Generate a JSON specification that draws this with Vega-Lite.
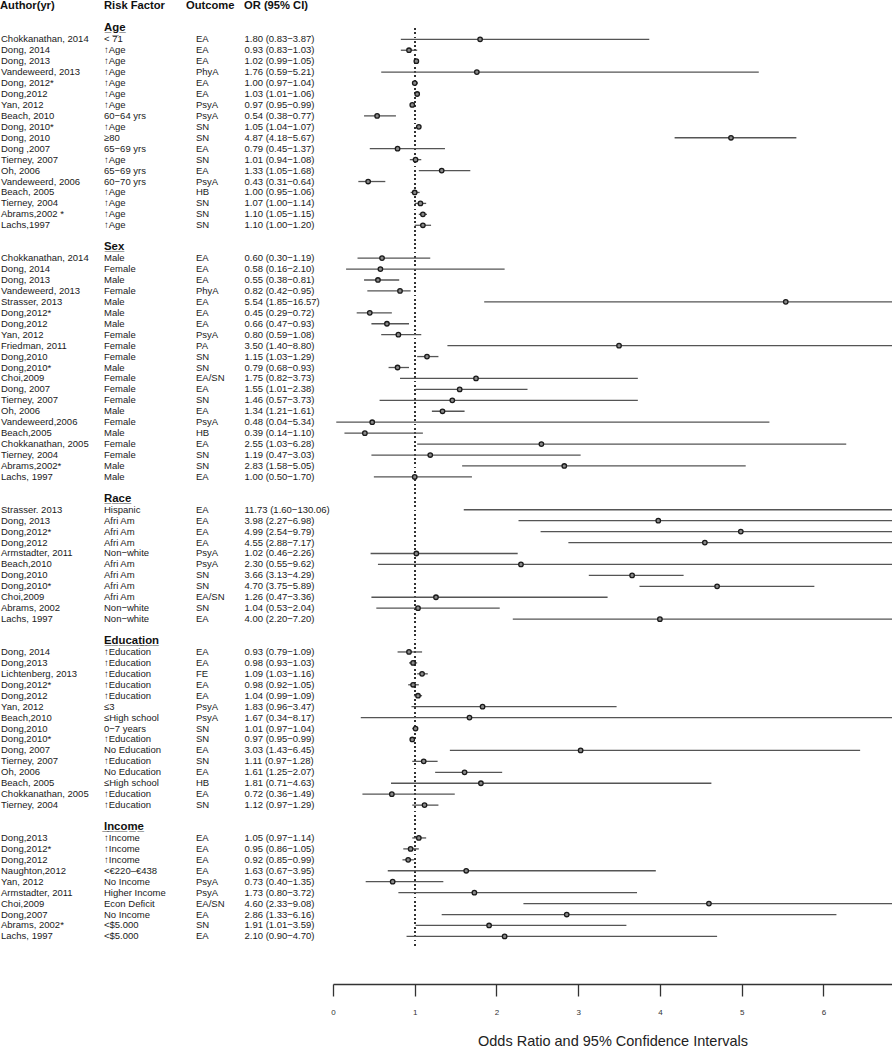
{
  "$schema": "https://vega.github.io/schema/vega-lite/v6.json",
  "padding": 0,
  "spacing": 0,
  "bounds": "flush",
  "background": "white",
  "config": {
    "view": {"stroke": null},
    "text": {"font": "Liberation Sans"},
    "axis": {"labelFont": "Liberation Sans", "titleFont": "Liberation Sans"}
  },
  "datasets": {
    "rows": [
      {"kind": "col", "r": -3, "a": "Author(yr)", "f": "Risk Factor", "o": "Outcome", "t": "OR (95% CI)"},
      {"kind": "sec", "r": -1, "f": "A\u0332g\u0332e\u0332"},
      {"kind": "d", "r": 0, "a": "Chokkanathan, 2014", "f": "< 71", "o": "EA", "t": "1.80 (0.83−3.87)", "or": 1.80, "lo": 0.83, "hi": 3.87},
      {"kind": "d", "r": 1, "a": "Dong, 2014", "f": "↑Age", "o": "EA", "t": "0.93 (0.83−1.03)", "or": 0.93, "lo": 0.83, "hi": 1.03},
      {"kind": "d", "r": 2, "a": "Dong, 2013", "f": "↑Age", "o": "EA", "t": "1.02 (0.99−1.05)", "or": 1.02, "lo": 0.99, "hi": 1.05},
      {"kind": "d", "r": 3, "a": "Vandeweerd, 2013", "f": "↑Age", "o": "PhyA", "t": "1.76 (0.59−5.21)", "or": 1.76, "lo": 0.59, "hi": 5.21},
      {"kind": "d", "r": 4, "a": "Dong, 2012*", "f": "↑Age", "o": "EA", "t": "1.00 (0.97−1.04)", "or": 1.00, "lo": 0.97, "hi": 1.04},
      {"kind": "d", "r": 5, "a": "Dong,2012", "f": "↑Age", "o": "EA", "t": "1.03 (1.01−1.06)", "or": 1.03, "lo": 1.01, "hi": 1.06},
      {"kind": "d", "r": 6, "a": "Yan, 2012", "f": "↑Age", "o": "PsyA", "t": "0.97 (0.95−0.99)", "or": 0.97, "lo": 0.95, "hi": 0.99},
      {"kind": "d", "r": 7, "a": "Beach, 2010", "f": "60−64 yrs", "o": "PsyA", "t": "0.54 (0.38−0.77)", "or": 0.54, "lo": 0.38, "hi": 0.77},
      {"kind": "d", "r": 8, "a": "Dong, 2010*", "f": "↑Age", "o": "SN", "t": "1.05 (1.04−1.07)", "or": 1.05, "lo": 1.04, "hi": 1.07},
      {"kind": "d", "r": 9, "a": "Dong, 2010", "f": "≥80", "o": "SN", "t": "4.87 (4.18−5.67)", "or": 4.87, "lo": 4.18, "hi": 5.67},
      {"kind": "d", "r": 10, "a": "Dong ,2007", "f": "65−69 yrs", "o": "EA", "t": "0.79 (0.45−1.37)", "or": 0.79, "lo": 0.45, "hi": 1.37},
      {"kind": "d", "r": 11, "a": "Tierney, 2007", "f": "↑Age", "o": "SN", "t": "1.01 (0.94−1.08)", "or": 1.01, "lo": 0.94, "hi": 1.08},
      {"kind": "d", "r": 12, "a": "Oh, 2006", "f": "65−69 yrs", "o": "EA", "t": "1.33 (1.05−1.68)", "or": 1.33, "lo": 1.05, "hi": 1.68},
      {"kind": "d", "r": 13, "a": "Vandeweerd, 2006", "f": "60−70 yrs", "o": "PsyA", "t": "0.43 (0.31−0.64)", "or": 0.43, "lo": 0.31, "hi": 0.64},
      {"kind": "d", "r": 14, "a": "Beach, 2005", "f": "↑Age", "o": "HB", "t": "1.00 (0.95−1.06)", "or": 1.00, "lo": 0.95, "hi": 1.06},
      {"kind": "d", "r": 15, "a": "Tierney, 2004", "f": "↑Age", "o": "SN", "t": "1.07 (1.00−1.14)", "or": 1.07, "lo": 1.00, "hi": 1.14},
      {"kind": "d", "r": 16, "a": "Abrams,2002 *", "f": "↑Age", "o": "SN", "t": "1.10 (1.05−1.15)", "or": 1.10, "lo": 1.05, "hi": 1.15},
      {"kind": "d", "r": 17, "a": "Lachs,1997", "f": "↑Age", "o": "SN", "t": "1.10 (1.00−1.20)", "or": 1.10, "lo": 1.00, "hi": 1.20},
      {"kind": "sec", "r": 19, "f": "S\u0332e\u0332x\u0332"},
      {"kind": "d", "r": 20, "a": "Chokkanathan, 2014", "f": "Male", "o": "EA", "t": "0.60 (0.30−1.19)", "or": 0.60, "lo": 0.30, "hi": 1.19},
      {"kind": "d", "r": 21, "a": "Dong, 2014", "f": "Female", "o": "EA", "t": "0.58 (0.16−2.10)", "or": 0.58, "lo": 0.16, "hi": 2.10},
      {"kind": "d", "r": 22, "a": "Dong, 2013", "f": "Male", "o": "EA", "t": "0.55 (0.38−0.81)", "or": 0.55, "lo": 0.38, "hi": 0.81},
      {"kind": "d", "r": 23, "a": "Vandeweerd, 2013", "f": "Female", "o": "PhyA", "t": "0.82 (0.42−0.95)", "or": 0.82, "lo": 0.42, "hi": 0.95},
      {"kind": "d", "r": 24, "a": "Strasser, 2013", "f": "Male", "o": "EA", "t": "5.54 (1.85−16.57)", "or": 5.54, "lo": 1.85, "hi": 16.57},
      {"kind": "d", "r": 25, "a": "Dong,2012*", "f": "Male", "o": "EA", "t": "0.45 (0.29−0.72)", "or": 0.45, "lo": 0.29, "hi": 0.72},
      {"kind": "d", "r": 26, "a": "Dong,2012", "f": "Male", "o": "EA", "t": "0.66 (0.47−0.93)", "or": 0.66, "lo": 0.47, "hi": 0.93},
      {"kind": "d", "r": 27, "a": "Yan, 2012", "f": "Female", "o": "PsyA", "t": "0.80 (0.59−1.08)", "or": 0.80, "lo": 0.59, "hi": 1.08},
      {"kind": "d", "r": 28, "a": "Friedman, 2011", "f": "Female", "o": "PA", "t": "3.50 (1.40−8.80)", "or": 3.50, "lo": 1.40, "hi": 8.80},
      {"kind": "d", "r": 29, "a": "Dong,2010", "f": "Female", "o": "SN", "t": "1.15 (1.03−1.29)", "or": 1.15, "lo": 1.03, "hi": 1.29},
      {"kind": "d", "r": 30, "a": "Dong,2010*", "f": "Male", "o": "SN", "t": "0.79 (0.68−0.93)", "or": 0.79, "lo": 0.68, "hi": 0.93},
      {"kind": "d", "r": 31, "a": "Choi,2009", "f": "Female", "o": "EA/SN", "t": "1.75 (0.82−3.73)", "or": 1.75, "lo": 0.82, "hi": 3.73},
      {"kind": "d", "r": 32, "a": "Dong, 2007", "f": "Female", "o": "EA", "t": "1.55 (1.01−2.38)", "or": 1.55, "lo": 1.01, "hi": 2.38},
      {"kind": "d", "r": 33, "a": "Tierney, 2007", "f": "Female", "o": "SN", "t": "1.46 (0.57−3.73)", "or": 1.46, "lo": 0.57, "hi": 3.73},
      {"kind": "d", "r": 34, "a": "Oh, 2006", "f": "Male", "o": "EA", "t": "1.34 (1.21−1.61)", "or": 1.34, "lo": 1.21, "hi": 1.61},
      {"kind": "d", "r": 35, "a": "Vandeweerd,2006", "f": "Female", "o": "PsyA", "t": "0.48 (0.04−5.34)", "or": 0.48, "lo": 0.04, "hi": 5.34},
      {"kind": "d", "r": 36, "a": "Beach,2005", "f": "Male", "o": "HB", "t": "0.39 (0.14−1.10)", "or": 0.39, "lo": 0.14, "hi": 1.10},
      {"kind": "d", "r": 37, "a": "Chokkanathan, 2005", "f": "Female", "o": "EA", "t": "2.55 (1.03−6.28)", "or": 2.55, "lo": 1.03, "hi": 6.28},
      {"kind": "d", "r": 38, "a": "Tierney, 2004", "f": "Female", "o": "SN", "t": "1.19 (0.47−3.03)", "or": 1.19, "lo": 0.47, "hi": 3.03},
      {"kind": "d", "r": 39, "a": "Abrams,2002*", "f": "Male", "o": "SN", "t": "2.83 (1.58−5.05)", "or": 2.83, "lo": 1.58, "hi": 5.05},
      {"kind": "d", "r": 40, "a": "Lachs, 1997", "f": "Male", "o": "EA", "t": "1.00 (0.50−1.70)", "or": 1.00, "lo": 0.50, "hi": 1.70},
      {"kind": "sec", "r": 42, "f": "R\u0332a\u0332c\u0332e\u0332"},
      {"kind": "d", "r": 43, "a": "Strasser. 2013", "f": "Hispanic", "o": "EA", "t": "11.73 (1.60−130.06)", "or": 11.73, "lo": 1.60, "hi": 130.06},
      {"kind": "d", "r": 44, "a": "Dong, 2013", "f": "Afri Am", "o": "EA", "t": "3.98 (2.27−6.98)", "or": 3.98, "lo": 2.27, "hi": 6.98},
      {"kind": "d", "r": 45, "a": "Dong,2012*", "f": "Afri Am", "o": "EA", "t": "4.99 (2.54−9.79)", "or": 4.99, "lo": 2.54, "hi": 9.79},
      {"kind": "d", "r": 46, "a": "Dong,2012", "f": "Afri Am", "o": "EA", "t": "4.55 (2.88−7.17)", "or": 4.55, "lo": 2.88, "hi": 7.17},
      {"kind": "d", "r": 47, "a": "Armstadter, 2011", "f": "Non−white", "o": "PsyA", "t": "1.02 (0.46−2.26)", "or": 1.02, "lo": 0.46, "hi": 2.26},
      {"kind": "d", "r": 48, "a": "Beach,2010", "f": "Afri Am", "o": "PsyA", "t": "2.30 (0.55−9.62)", "or": 2.30, "lo": 0.55, "hi": 9.62},
      {"kind": "d", "r": 49, "a": "Dong,2010", "f": "Afri Am", "o": "SN", "t": "3.66 (3.13−4.29)", "or": 3.66, "lo": 3.13, "hi": 4.29},
      {"kind": "d", "r": 50, "a": "Dong,2010*", "f": "Afri Am", "o": "SN", "t": "4.70 (3.75−5.89)", "or": 4.70, "lo": 3.75, "hi": 5.89},
      {"kind": "d", "r": 51, "a": "Choi,2009", "f": "Afri Am", "o": "EA/SN", "t": "1.26 (0.47−3.36)", "or": 1.26, "lo": 0.47, "hi": 3.36},
      {"kind": "d", "r": 52, "a": "Abrams, 2002", "f": "Non−white", "o": "SN", "t": "1.04 (0.53−2.04)", "or": 1.04, "lo": 0.53, "hi": 2.04},
      {"kind": "d", "r": 53, "a": "Lachs, 1997", "f": "Non−white", "o": "EA", "t": "4.00 (2.20−7.20)", "or": 4.00, "lo": 2.20, "hi": 7.20},
      {"kind": "sec", "r": 55, "f": "E\u0332d\u0332u\u0332c\u0332a\u0332t\u0332i\u0332o\u0332n\u0332"},
      {"kind": "d", "r": 56, "a": "Dong, 2014", "f": "↑Education", "o": "EA", "t": "0.93 (0.79−1.09)", "or": 0.93, "lo": 0.79, "hi": 1.09},
      {"kind": "d", "r": 57, "a": "Dong,2013", "f": "↑Education", "o": "EA", "t": "0.98 (0.93−1.03)", "or": 0.98, "lo": 0.93, "hi": 1.03},
      {"kind": "d", "r": 58, "a": "Lichtenberg, 2013", "f": "↑Education", "o": "FE", "t": "1.09 (1.03−1.16)", "or": 1.09, "lo": 1.03, "hi": 1.16},
      {"kind": "d", "r": 59, "a": "Dong,2012*", "f": "↑Education", "o": "EA", "t": "0.98 (0.92−1.05)", "or": 0.98, "lo": 0.92, "hi": 1.05},
      {"kind": "d", "r": 60, "a": "Dong,2012", "f": "↑Education", "o": "EA", "t": "1.04 (0.99−1.09)", "or": 1.04, "lo": 0.99, "hi": 1.09},
      {"kind": "d", "r": 61, "a": "Yan, 2012", "f": "≤3", "o": "PsyA", "t": "1.83 (0.96−3.47)", "or": 1.83, "lo": 0.96, "hi": 3.47},
      {"kind": "d", "r": 62, "a": "Beach,2010", "f": "≤High school", "o": "PsyA", "t": "1.67 (0.34−8.17)", "or": 1.67, "lo": 0.34, "hi": 8.17},
      {"kind": "d", "r": 63, "a": "Dong,2010", "f": "0−7 years", "o": "SN", "t": "1.01 (0.97−1.04)", "or": 1.01, "lo": 0.97, "hi": 1.04},
      {"kind": "d", "r": 64, "a": "Dong,2010*", "f": "↑Education", "o": "SN", "t": "0.97 (0.95−0.99)", "or": 0.97, "lo": 0.95, "hi": 0.99},
      {"kind": "d", "r": 65, "a": "Dong, 2007", "f": "No Education", "o": "EA", "t": "3.03 (1.43−6.45)", "or": 3.03, "lo": 1.43, "hi": 6.45},
      {"kind": "d", "r": 66, "a": "Tierney, 2007", "f": "↑Education", "o": "SN", "t": "1.11 (0.97−1.28)", "or": 1.11, "lo": 0.97, "hi": 1.28},
      {"kind": "d", "r": 67, "a": "Oh, 2006", "f": "No Education", "o": "EA", "t": "1.61 (1.25−2.07)", "or": 1.61, "lo": 1.25, "hi": 2.07},
      {"kind": "d", "r": 68, "a": "Beach, 2005", "f": "≤High school", "o": "HB", "t": "1.81 (0.71−4.63)", "or": 1.81, "lo": 0.71, "hi": 4.63},
      {"kind": "d", "r": 69, "a": "Chokkanathan, 2005", "f": "↑Education", "o": "EA", "t": "0.72 (0.36−1.49)", "or": 0.72, "lo": 0.36, "hi": 1.49},
      {"kind": "d", "r": 70, "a": "Tierney, 2004", "f": "↑Education", "o": "SN", "t": "1.12 (0.97−1.29)", "or": 1.12, "lo": 0.97, "hi": 1.29},
      {"kind": "sec", "r": 72, "f": "I\u0332n\u0332c\u0332o\u0332m\u0332e\u0332"},
      {"kind": "d", "r": 73, "a": "Dong,2013", "f": "↑Income", "o": "EA", "t": "1.05 (0.97−1.14)", "or": 1.05, "lo": 0.97, "hi": 1.14},
      {"kind": "d", "r": 74, "a": "Dong,2012*", "f": "↑Income", "o": "EA", "t": "0.95 (0.86−1.05)", "or": 0.95, "lo": 0.86, "hi": 1.05},
      {"kind": "d", "r": 75, "a": "Dong,2012", "f": "↑Income", "o": "EA", "t": "0.92 (0.85−0.99)", "or": 0.92, "lo": 0.85, "hi": 0.99},
      {"kind": "d", "r": 76, "a": "Naughton,2012", "f": "<€220–€438", "o": "EA", "t": "1.63 (0.67−3.95)", "or": 1.63, "lo": 0.67, "hi": 3.95},
      {"kind": "d", "r": 77, "a": "Yan, 2012", "f": "No Income", "o": "PsyA", "t": "0.73 (0.40−1.35)", "or": 0.73, "lo": 0.40, "hi": 1.35},
      {"kind": "d", "r": 78, "a": "Armstadter, 2011", "f": "Higher Income", "o": "PsyA", "t": "1.73 (0.80−3.72)", "or": 1.73, "lo": 0.80, "hi": 3.72},
      {"kind": "d", "r": 79, "a": "Choi,2009", "f": "Econ Deficit", "o": "EA/SN", "t": "4.60 (2.33−9.08)", "or": 4.60, "lo": 2.33, "hi": 9.08},
      {"kind": "d", "r": 80, "a": "Dong,2007", "f": "No Income", "o": "EA", "t": "2.86 (1.33−6.16)", "or": 2.86, "lo": 1.33, "hi": 6.16},
      {"kind": "d", "r": 81, "a": "Abrams, 2002*", "f": "<$5.000", "o": "SN", "t": "1.91 (1.01−3.59)", "or": 1.91, "lo": 1.01, "hi": 3.59},
      {"kind": "d", "r": 82, "a": "Lachs, 1997", "f": "<$5.000", "o": "EA", "t": "2.10 (0.90−4.70)", "or": 2.10, "lo": 0.90, "hi": 4.70}
    ]
  },
  "hconcat": [
    {
      "width": 333,
      "height": 984,
      "data": {"name": "rows"},
      "layer": [
        {
          "transform": [{"filter": "datum.kind == 'col'"}],
          "mark": {"type": "text", "align": "left", "baseline": "middle", "fontSize": 11.2, "fontWeight": "bold", "color": "#111"},
          "encoding": {
            "x": {"datum": 0, "type": "quantitative", "scale": {"domain": [0, 333], "nice": false, "zero": false}, "axis": null},
            "y": {"field": "r", "type": "quantitative", "scale": {"domain": [-3.592, 86.35], "reverse": true, "nice": false, "zero": false}, "axis": null},
            "text": {"field": "a"}
          }
        },
        {
          "transform": [{"filter": "datum.kind == 'col'"}],
          "mark": {"type": "text", "align": "left", "baseline": "middle", "fontSize": 11.2, "fontWeight": "bold", "color": "#111"},
          "encoding": {
            "x": {"datum": 104, "type": "quantitative"},
            "y": {"field": "r", "type": "quantitative"},
            "text": {"field": "f"}
          }
        },
        {
          "transform": [{"filter": "datum.kind == 'col'"}],
          "mark": {"type": "text", "align": "left", "baseline": "middle", "fontSize": 11.2, "fontWeight": "bold", "color": "#111"},
          "encoding": {
            "x": {"datum": 186, "type": "quantitative"},
            "y": {"field": "r", "type": "quantitative"},
            "text": {"field": "o"}
          }
        },
        {
          "transform": [{"filter": "datum.kind == 'col'"}],
          "mark": {"type": "text", "align": "left", "baseline": "middle", "fontSize": 11.2, "fontWeight": "bold", "color": "#111"},
          "encoding": {
            "x": {"datum": 244, "type": "quantitative"},
            "y": {"field": "r", "type": "quantitative"},
            "text": {"field": "t"}
          }
        },
        {
          "transform": [{"filter": "datum.kind == 'sec'"}],
          "mark": {"type": "text", "align": "left", "baseline": "middle", "fontSize": 11.4, "fontWeight": "bold", "color": "#111"},
          "encoding": {
            "x": {"datum": 104, "type": "quantitative"},
            "y": {"field": "r", "type": "quantitative"},
            "text": {"field": "f"}
          }
        },
        {
          "transform": [{"filter": "datum.kind == 'd'"}],
          "mark": {"type": "text", "align": "left", "baseline": "middle", "fontSize": 9.5, "color": "#1a1a1a"},
          "encoding": {
            "x": {"datum": 1, "type": "quantitative"},
            "y": {"field": "r", "type": "quantitative"},
            "text": {"field": "a"}
          }
        },
        {
          "transform": [{"filter": "datum.kind == 'd'"}],
          "mark": {"type": "text", "align": "left", "baseline": "middle", "fontSize": 9.5, "color": "#1a1a1a"},
          "encoding": {
            "x": {"datum": 104, "type": "quantitative"},
            "y": {"field": "r", "type": "quantitative"},
            "text": {"field": "f"}
          }
        },
        {
          "transform": [{"filter": "datum.kind == 'd'"}],
          "mark": {"type": "text", "align": "left", "baseline": "middle", "fontSize": 9.5, "color": "#1a1a1a"},
          "encoding": {
            "x": {"datum": 196, "type": "quantitative"},
            "y": {"field": "r", "type": "quantitative"},
            "text": {"field": "o"}
          }
        },
        {
          "transform": [{"filter": "datum.kind == 'd'"}],
          "mark": {"type": "text", "align": "left", "baseline": "middle", "fontSize": 9.5, "color": "#1a1a1a"},
          "encoding": {
            "x": {"datum": 244.5, "type": "quantitative"},
            "y": {"field": "r", "type": "quantitative"},
            "text": {"field": "t"}
          }
        }
      ]
    },
    {
      "width": 559,
      "height": 984,
      "data": {"name": "rows"},
      "transform": [{"filter": "datum.kind == 'd'"}],
      "layer": [
        {
          "mark": {"type": "rule", "color": "#333", "strokeWidth": 1.1, "strokeDash": [1.1, 3.2]},
          "encoding": {
            "x": {"datum": 1, "type": "quantitative",
              "scale": {"domain": [0, 6.84], "nice": false, "zero": false},
              "axis": {
                "values": [0, 1, 2, 3, 4, 5, 6],
                "format": "d",
                "title": "Odds Ratio and 95% Confidence Intervals",
                "grid": false,
                "domainColor": "#333", "domainWidth": 1.3,
                "tickColor": "#333", "tickWidth": 1.3, "tickSize": 12,
                "labelFontSize": 8, "labelColor": "#333", "labelPadding": 12,
                "labelFlush": false,
                "titleFontSize": 14.5, "titleFontWeight": "normal", "titleColor": "#222", "titlePadding": 18
              }
            },
            "y": {"datum": -1, "type": "quantitative", "scale": {"domain": [-3.592, 86.35], "reverse": true, "nice": false, "zero": false}, "axis": null},
            "y2": {"datum": 83}
          }
        },
        {
          "mark": {"type": "rule", "color": "#555", "strokeWidth": 1.3, "clip": true},
          "encoding": {
            "x": {"field": "lo", "type": "quantitative"},
            "x2": {"field": "hi"},
            "y": {"field": "r", "type": "quantitative"}
          }
        },
        {
          "mark": {"type": "point", "shape": "circle", "filled": true, "fill": "#8a8a8a", "stroke": "#1a1a1a", "strokeWidth": 1.3, "size": 20, "opacity": 1, "clip": true},
          "encoding": {
            "x": {"field": "or", "type": "quantitative"},
            "y": {"field": "r", "type": "quantitative"}
          }
        }
      ]
    }
  ]
}
